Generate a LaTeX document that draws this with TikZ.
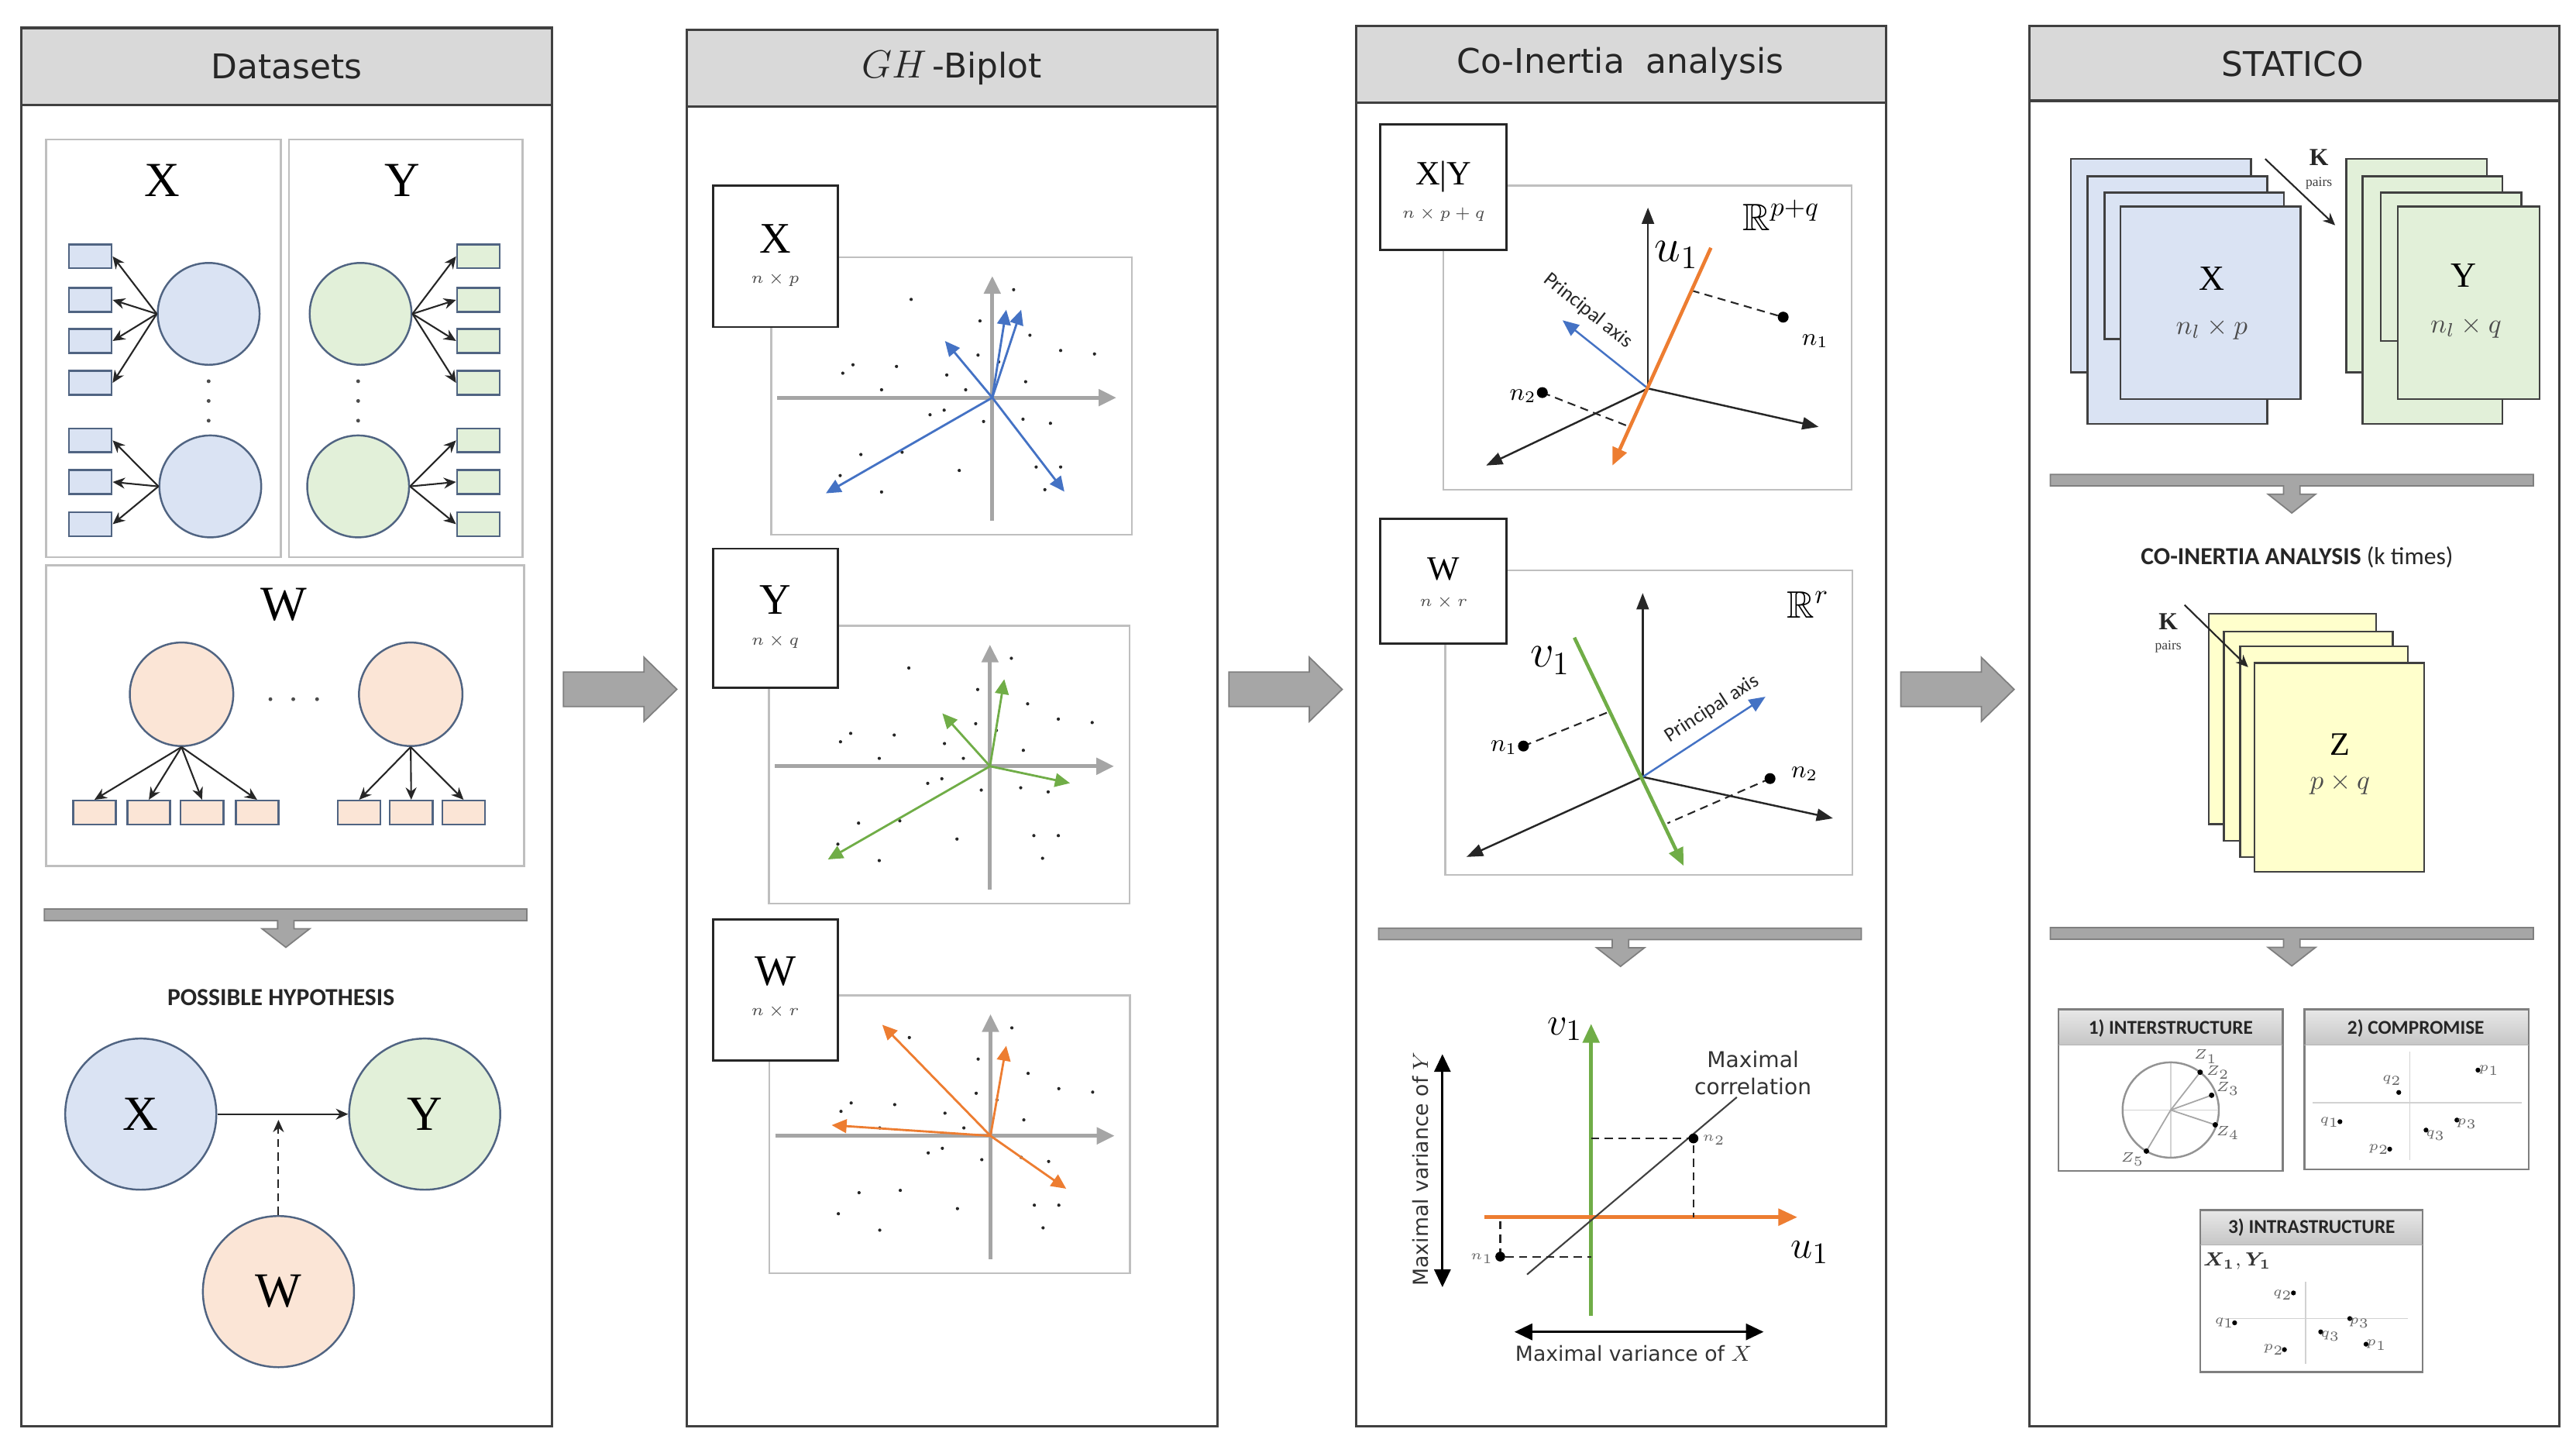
\documentclass[tikz,border=0pt]{standalone}
\usepackage{amsmath,amssymb}
\usepackage{fontspec}
\newfontfamily\dvf{DejaVu Sans}
\newfontfamily\cbf{Carlito}
\newfontfamily\lsf{Liberation Serif}
\usetikzlibrary{arrows.meta}
\definecolor{bfill}{HTML}{DAE3F3}
\definecolor{gfill}{HTML}{E2F0D9}
\definecolor{ofill}{HTML}{FBE5D6}
\definecolor{yfill}{HTML}{FFFFCC}
\definecolor{edgec}{HTML}{506482}
\definecolor{hgray}{HTML}{D9D9D9}
\definecolor{bgray}{HTML}{A6A6A6}
\definecolor{dgray}{HTML}{7F7F7F}
\definecolor{lgray}{HTML}{BFBFBF}
\definecolor{axgray}{HTML}{A5A5A5}
\definecolor{cblue}{HTML}{4472C4}
\definecolor{cgreen}{HTML}{70AD47}
\definecolor{corange}{HTML}{ED7D31}
\def\ux{0.021205cm}
\def\scatpts{-49.4/-59.8, -7.5/-46.7, 13/-65.7, 22.9/-38, 41.6/-28.7, 62.2/-26.6, -91/-14.9, -84.8/-20, -58.3/-19, -27.7/-13.8, -8.7/-25.9, 3.9/-21.8, 20.3/-9.7, -67.4/-4.8, -16.2/-4.8, -37.9/10.4, -29.3/7.6, -5.3/14.5, 18.7/13.1, 35.4/15.6, -80/34.6, -54.9/33.2, -20.1/44.3, 26.7/42.2, 41.6/42.2, -92.6/47.4, -67.4/57.4, 32/56}
\newcommand\biplotbase{%
  \draw[lightbox] (-134.5,-85.5) rectangle (85,83.5);
  \draw[gaxis] (-131,0) -- (75.5,0);
  \draw[gaxis] (0,75) -- (0,-74);
  \foreach \a/\b in \scatpts {\fill[black!85] (\a,\b) circle (0.6pt);}
}
\newcommand\notcharrow[5]{%
  \filldraw[fill=bgray, draw=dgray, line width=0.5pt] (#1,#3) -- (#2,#3) -- (#2,#3+7) -- (#4+5,#3+7) -- (#4+5,#3+12) -- (#4+14.5,#3+12) -- (#4,#5) -- (#4-14.5,#3+12) -- (#4-5,#3+12) -- (#4-5,#3+7) -- (#1,#3+7) -- cycle;}
\newcommand\blockarrow[1]{%
  \filldraw[fill=bgray, draw=dgray, line width=0.5pt] (#1,409) -- (#1+49,409) -- (#1+49,400) -- (#1+69,419.5) -- (#1+49,439) -- (#1+49,430) -- (#1,430) -- cycle;}
\begin{document}
\begin{tikzpicture}[x=0.021205cm,y=-0.021205cm,
  panelbox/.style={draw=black!75, line width=0.9pt},
  headband/.style={fill=hgray, draw=black!75, line width=0.9pt},
  ttl/.style={font=\dvf\fontsize{12.5}{15}\selectfont, text=black!85},
  lightbox/.style={draw=lgray, line width=0.7pt},
  smrect/.style={rectangle, draw=edgec, line width=0.7pt, inner sep=0pt, minimum width=26*\ux, minimum height=14.5*\ux},
  blr/.style={smrect, fill=bfill},
  grr/.style={smrect, fill=gfill},
  orr/.style={smrect, fill=ofill},
  circ/.style={circle, draw=edgec, line width=0.7pt, inner sep=0pt, minimum size=62*\ux},
  hcirc/.style={circle, draw=edgec, line width=0.7pt, inner sep=0pt, minimum size=92*\ux},
  arr/.style={draw=black!85, line width=0.6pt, -{Stealth[length=4.5pt,width=4pt]}},
  bigL/.style={font=\lsf\fontsize{18}{20}\selectfont},
  midL/.style={font=\lsf\fontsize{16}{18}\selectfont},
  smL/.style={font=\lsf\fontsize{12.5}{14}\selectfont},
  dimL/.style={font=\fontsize{6}{7}\selectfont, text=black!70},
  lblbox/.style={rectangle, draw=black!85, fill=white, line width=0.8pt, inner sep=0pt, minimum width=75.8*\ux, minimum height=86*\ux},
  gaxis/.style={draw=axgray, line width=1.4pt, -{Triangle[length=6.5pt,width=6pt]}},
  varr/.style={line width=0.8pt, -{Triangle[length=5.5pt,width=5pt]}},
  kaxis/.style={draw=black!85, line width=0.7pt, -{Triangle[length=6pt,width=4.5pt]}},
  dsh/.style={draw=black!85, line width=0.6pt, dash pattern=on 3pt off 2pt},
  pax/.style={font=\cbf\fontsize{7.5}{9}\selectfont, text=black!85, inner sep=0pt},
  stackb/.style={fill=bfill, draw=black!75, line width=0.7pt},
  stackg/.style={fill=gfill, draw=black!75, line width=0.7pt},
  stacky/.style={fill=yfill, draw=black!75, line width=0.7pt},
  capt/.style={font=\cbf\bfseries\fontsize{9}{11}\selectfont, text=black!85},
  mini/.style={draw=dgray, line width=0.7pt},
  minit/.style={font=\cbf\bfseries\fontsize{7.2}{8}\selectfont, text=black!85},
  tinyL/.style={font=\fontsize{4.5}{5}\selectfont, text=black!60, inner sep=0.5pt},
  mdot/.style={fill=black}
]
\useasboundingbox (0,0) rectangle (1568,884);

% ================= Panel 1: Datasets =================
\draw[panelbox] (13,17) rectangle (336,868);
\draw[headband] (13,17) rectangle (336,64);
\node[ttl] (t1) at (174.5,40.5) {Datasets};

\draw[lightbox] (28,85) rectangle (171,339);
\draw[lightbox] (176,85) rectangle (318,339);
\draw[lightbox] (28,344) rectangle (319,527);
\node[bigL] (lx) at (98.7,110) {X};
\node[bigL] (ly) at (245,110) {Y};
\node[bigL] (lw) at (172.6,368) {W};

% X block
\node[circ, fill=bfill] (bc1) at (127,191) {};
\node[circ, fill=bfill] (bc2) at (128,296) {};
\foreach \i/\y in {1/156,2/182.5,3/207.5,4/233,5/268,6/293.3,7/319}
  \node[blr] (bx\i) at (55,\y) {};
\foreach \i in {1,2,3,4} \draw[arr] (bc1.west) -- (bx\i.east);
\foreach \i in {5,6,7} \draw[arr] (bc2.west) -- (bx\i.east);
\foreach \y in {232,244,256} \fill[black!70] (127,\y) circle (0.7pt);

% Y block
\node[circ, fill=gfill] (gc1) at (219.5,191) {};
\node[circ, fill=gfill] (gc2) at (218,296) {};
\foreach \i/\y in {1/156,2/182.5,3/207.5,4/233,5/268,6/293.3,7/319}
  \node[grr] (gx\i) at (291.2,\y) {};
\foreach \i in {1,2,3,4} \draw[arr] (gc1.east) -- (gx\i.west);
\foreach \i in {5,6,7} \draw[arr] (gc2.east) -- (gx\i.west);
\foreach \y in {232,244,256} \fill[black!70] (218,\y) circle (0.7pt);

% W block
\node[circ, fill=ofill, minimum size=63*\ux] (oc1) at (110.5,422.5) {};
\node[circ, fill=ofill, minimum size=63*\ux] (oc2) at (250,422.5) {};
\foreach \i/\x in {1/57.5,2/90.6,3/123,4/156.5,5/218.6,6/250.3,7/282.2}
  \node[orr] (ox\i) at (\x,494.5) {};
\foreach \i in {1,2,3,4} \draw[arr] (oc1.south) -- (ox\i.north);
\foreach \i in {5,6,7} \draw[arr] (oc2.south) -- (ox\i.north);
\foreach \x in {164.6,178.5,193} \fill[black!70] (\x,425.5) circle (0.7pt);

\notcharrow{27}{320.7}{553.2}{174}{576.5}
\node[capt] (ph) at (171,607) {POSSIBLE HYPOTHESIS};
\node[hcirc, fill=bfill, bigL] (hx) at (85.7,678) {X};
\node[hcirc, fill=gfill, bigL] (hy) at (258.5,678) {Y};
\node[hcirc, fill=ofill, bigL] (hw) at (169.5,786) {W};
\draw[arr] (hx.east) -- (hy.west);
\coordinate (hm) at (169.5,681.5);
\draw[arr, dash pattern=on 3pt off 2pt] (hw.north) -- (hm);

% arrows between panels
\blockarrow{343}
\blockarrow{748}
\blockarrow{1157}

% ================= Panel 2: GH-Biplot =================
\draw[panelbox] (418,18) rectangle (741,868);
\draw[headband] (418,18) rectangle (741,65);
\node[ttl] (t2) at (579.3,41.5) {{\fontsize{13.5}{15}\selectfont$GH$}\,-Biplot};

\begin{scope}[shift={(604,242)}]
  \biplotbase
  \coordinate (bo1) at (0,0);
  \foreach \dx/\dy in {-28.8/-34.5, -101.3/58.2, 43.9/57.2, 8.5/-53.5, 17.6/-53.5}
    \draw[varr, cblue] (bo1) -- ++(\dx,\dy);
\end{scope}
\node[lblbox] (bl1) at (472.1,156) {};
\node[midL] (bl1a) at (471.9,145.3) {X};
\node[dimL] (bl1b) at (471.9,170) {$n\times p$};

\begin{scope}[shift={(602.6,466.3)}]
  \biplotbase
  \coordinate (bo2) at (0,0);
  \foreach \dx/\dy in {-29/-32.2, -98.7/56.7, 48.7/10.3, 8.7/-53}
    \draw[varr, cgreen] (bo2) -- ++(\dx,\dy);
\end{scope}
\node[lblbox, minimum height=84.7*\ux] (bl2) at (472.1,376.2) {};
\node[midL] (bl2a) at (471.9,365) {Y};
\node[dimL] (bl2b) at (471.9,390.2) {$n\times q$};

\begin{scope}[shift={(602.9,691.2)}]
  \biplotbase
  \coordinate (bo3) at (0,0);
  \foreach \dx/\dy in {-65.9/-67.6, -96.7/-6.5, 9.6/-54.8, 46.1/32.2}
    \draw[varr, corange] (bo3) -- ++(\dx,\dy);
\end{scope}
\node[lblbox, minimum height=85.8*\ux] (bl3) at (472.1,602.4) {};
\node[midL] (bl3a) at (471.9,591) {W};
\node[dimL] (bl3b) at (471.9,615.4) {$n\times r$};

% ================= Panel 3: Co-Inertia =================
\draw[panelbox] (825.5,16) rectangle (1148,868);
\draw[headband] (825.5,16) rectangle (1148,62.4);
\node[ttl] (t3) at (986.4,39) {Co-Inertia\ \ analysis};

% top plot
\draw[lightbox] (878.6,113) rectangle (1127,298.1);
\node[lblbox, minimum width=76.8*\ux, minimum height=76.5*\ux] (cl1) at (878.7,114) {};
\node[smL] (cl1a) at (878.7,107.5) {X|Y};
\node[dimL] (cl1b) at (878.7,130.6) {$n\times p+q$};
\node[font=\fontsize{14}{16}\selectfont] (r1) at (1084.3,131) {$\mathbb{R}^{p+q}$};
\coordinate (co1) at (1003.1,236.4);
\draw[kaxis] (co1) -- (1003.1,126.3);
\draw[kaxis] (co1) -- (1107,259.8);
\draw[kaxis] (co1) -- (904.6,283.3);
\draw[line width=0.7pt, cblue, -{Triangle[length=6pt,width=5pt]}] (co1) -- (951.1,194.9);
\node[pax, rotate=-38.6] (pa1) at (966.5,189) {Principal axis};
\draw[dsh] (1029.6,176.8) -- (1085.4,193);
\draw[dsh] (938.8,238.9) -- (992.1,259.8);
\draw[line width=1.3pt, corange, -{Triangle[length=6.5pt,width=5.5pt]}] (1041.4,150.8) -- (981.5,283.3);
\node[font=\fontsize{17}{18}\selectfont] (u1a) at (1020.4,155) {$u_1$};
\node[font=\fontsize{9}{10}\selectfont] (n1a) at (1104.9,207.5) {$n_1$};
\node[font=\fontsize{9}{10}\selectfont] (n2a) at (927,241) {$n_2$};
\fill (1085.4,193) circle (2pt);
\fill (938.8,238.9) circle (2pt);

% second plot
\draw[lightbox] (879.7,347.2) rectangle (1127.6,532.3);
\node[lblbox, minimum width=76.8*\ux, minimum height=75.8*\ux] (cl2) at (878.7,353.7) {};
\node[smL] (cl2a) at (878.7,346.4) {W};
\node[dimL] (cl2b) at (878.7,366.3) {$n\times r$};
\node[font=\fontsize{14}{16}\selectfont] (r2) at (1100.6,368) {$\mathbb{R}^{r}$};
\coordinate (co2) at (999.9,472.8);
\draw[kaxis] (co2) -- (999.9,360.9);
\draw[kaxis] (co2) -- (1115.7,498);
\draw[kaxis] (co2) -- (892.7,521.5);
\draw[line width=0.7pt, cblue, -{Triangle[length=6pt,width=5pt]}] (co2) -- (1074.6,424);
\node[pax, rotate=33] (pa2) at (1042.1,431.3) {Principal axis};
\draw[dsh] (927.3,454) -- (979.8,433);
\draw[dsh] (1077.4,473.8) -- (1015,501);
\draw[line width=1.3pt, cgreen, -{Triangle[length=6.5pt,width=5.5pt]}] (958.3,388) -- (1024.8,526.9);
\node[font=\fontsize{17}{18}\selectfont] (v1a) at (943.6,402) {$v_1$};
\node[font=\fontsize{9}{10}\selectfont] (n1b) at (915.4,455) {$n_1$};
\node[font=\fontsize{9}{10}\selectfont] (n2b) at (1098.4,471) {$n_2$};
\fill (927.3,454) circle (2pt);
\fill (1077.4,473.8) circle (2pt);

\notcharrow{839.2}{1133}{564.8}{986.4}{588.1}

% bottom plot
\draw[line width=1.5pt, cgreen, -{Triangle[length=7pt,width=6pt]}] (968.5,800.7) -- (968.5,623);
\draw[line width=1.5pt, corange, -{Triangle[length=7pt,width=6pt]}] (903.5,740.7) -- (1094.1,740.7);
\draw[draw=black!75, line width=0.6pt] (929.5,775.6) -- (1057.2,667.7);
\draw[dsh] (968.5,692.8) -- (1030.8,692.8) -- (1030.8,740.7);
\draw[dsh] (913.2,743) -- (913.2,764.7) -- (968.5,764.7);
\fill (1030.8,692.8) circle (1.8pt);
\fill (913.2,764.7) circle (1.8pt);
\node[tinyL] (n2c) at (1043.2,693.8) {$n_2$};
\node[tinyL] (n1c) at (902,766) {$n_1$};
\node[font=\fontsize{15}{16}\selectfont] (v1b) at (952.7,626.3) {$v_1$};
\node[font=\fontsize{15}{16}\selectfont] (u1b) at (1101.6,762.1) {$u_1$};
\node[font=\dvf\fontsize{8}{10}\selectfont, text=black!80, align=center] (mc) at (1067,653) {Maximal\\correlation};
\coordinate (vy1) at (878,641.5);
\coordinate (vy2) at (878,783.3);
\draw[line width=0.8pt, {Triangle[length=6.5pt,width=6pt]}-{Triangle[length=6.5pt,width=6pt]}] (vy1) -- (vy2);
\node[font=\dvf\fontsize{7.6}{9}\selectfont, text=black!80, rotate=90] (mvy) at (864.5,711.3) {Maximal variance of $Y$};
\coordinate (vx1) at (921.9,810.5);
\coordinate (vx2) at (1073.5,810.5);
\draw[line width=0.8pt, {Triangle[length=6.5pt,width=6pt]}-{Triangle[length=6.5pt,width=6pt]}] (vx1) -- (vx2);
\node[font=\dvf\fontsize{7.6}{9}\selectfont, text=black!80] (mvx) at (994.4,823.6) {Maximal variance of $X$};

% ================= Panel 4: STATICO =================
\draw[panelbox] (1235.3,16) rectangle (1558,868);
\draw[headband] (1235.3,16) rectangle (1558,61.3);
\node[ttl] (t4) at (1395.6,38.7) {STATICO};

\draw[stackb] (1260.5,96.7) rectangle (1370.2,226.6);
\draw[stackb] (1270.7,107.2) rectangle (1380.1,258);
\draw[stackb] (1281.1,117.3) rectangle (1390.1,206.4);
\draw[stackb] (1290.6,125.6) rectangle (1400.4,242.9);
\node[font=\lsf\fontsize{13}{15}\selectfont] (sx) at (1346.3,169.6) {X};
\node[font=\fontsize{10}{12}\selectfont, text=black!70] (sxd) at (1346.3,200.3) {$n_l\times p$};

\draw[stackg] (1428.1,96.7) rectangle (1513.8,226.6);
\draw[stackg] (1438,107.2) rectangle (1523.1,258);
\draw[stackg] (1449.1,117.3) rectangle (1534.8,207.5);
\draw[stackg] (1459.5,125.6) rectangle (1545.7,242.9);
\node[font=\lsf\fontsize{13}{15}\selectfont] (sy) at (1499.5,167.8) {Y};
\node[font=\fontsize{10}{12}\selectfont, text=black!70] (syd) at (1501,199.2) {$n_l\times q$};

\coordinate (ka1) at (1378.8,96.7);
\coordinate (ka2) at (1421.4,137.1);
\draw[arr] (ka1) -- (ka2);
\node[font=\lsf\bfseries\fontsize{9}{10}\selectfont, text=black!85] (kk1) at (1411.5,96) {K};
\node[font=\lsf\fontsize{5}{6}\selectfont, text=black!75] (kp1) at (1411.5,111.5) {pairs};

\notcharrow{1248}{1542}{288.7}{1395}{312.2}
\node[capt] (cia) at (1398.2,339.2) {CO-INERTIA ANALYSIS {\mdseries (k times)}};

\draw[stacky] (1344.5,373.5) rectangle (1446.4,501.6);
\draw[stacky] (1353.6,384.3) rectangle (1456.4,511.7);
\draw[stacky] (1363.5,393.4) rectangle (1465.7,521.5);
\draw[stacky] (1372.4,403.5) rectangle (1475.6,530.5);
\node[font=\lsf\fontsize{12}{14}\selectfont] (sz) at (1424.3,452.9) {Z};
\node[font=\fontsize{10}{12}\selectfont, text=black!70] (szd) at (1424.3,477.1) {$p\times q$};
\coordinate (kb1) at (1329.7,368.1);
\coordinate (kb2) at (1368.4,406);
\draw[arr] (kb1) -- (kb2);
\node[font=\lsf\bfseries\fontsize{9}{10}\selectfont, text=black!85] (kk2) at (1319.8,378.5) {K};
\node[font=\lsf\fontsize{5}{6}\selectfont, text=black!75] (kp2) at (1319.8,393.4) {pairs};

\notcharrow{1248}{1542}{564.5}{1395}{587.8}

% 1) Interstructure
\shade[top color=gray!18, bottom color=gray!45] (1253,614.2) rectangle (1389.4,635.9);
\draw[mini] (1253,614.2) rectangle (1389.4,712.5);
\draw[draw=gray!60, line width=0.4pt] (1253,635.9) -- (1389.4,635.9);
\node[minit] (m1) at (1321.3,625.8) {1) INTERSTRUCTURE};
\draw[draw=gray!35, line width=0.5pt] (1321.3,646.5) -- (1321.3,704.5);
\draw[draw=gray!35, line width=0.5pt] (1292,675.5) -- (1350.5,675.5);
\draw[draw=gray!85, line width=0.7pt] (1321.3,675.5) circle [x radius=29.3, y radius=29];
\coordinate (ic) at (1321.3,675.5);
\foreach \px/\py in {1339.2/652.5, 1346.2/666.5, 1348.4/684.5, 1306.5/700.5} {
  \draw[draw=gray!70, line width=0.5pt] (ic) -- (\px,\py);
  \fill (\px,\py) circle (1pt);
}
\node[tinyL] (z1) at (1342.5,643) {$Z_1$};
\node[tinyL] (z2) at (1350,652.5) {$Z_2$};
\node[tinyL] (z3) at (1356,662.5) {$Z_3$};
\node[tinyL] (z4) at (1356,689.5) {$Z_4$};
\node[tinyL] (z5) at (1298,705.5) {$Z_5$};

% 2) Compromise
\shade[top color=gray!18, bottom color=gray!45] (1402.7,614.2) rectangle (1539.3,635.9);
\draw[mini] (1402.7,614.2) rectangle (1539.3,711.5);
\draw[draw=gray!60, line width=0.4pt] (1402.7,635.9) -- (1539.3,635.9);
\node[minit] (m2) at (1470.5,625.8) {2) COMPROMISE};
\draw[draw=gray!35, line width=0.5pt] (1466.8,640) -- (1466.8,706);
\draw[draw=gray!35, line width=0.5pt] (1407.7,671.1) -- (1534.8,671.1);
\foreach \px/\py in {1460.1/664.8, 1508.3/651.2, 1424.3/682.6, 1495.5/681.6, 1476.7/687.7, 1454.6/699.3}
  \fill (\px,\py) circle (0.9pt);
\node[tinyL] (cq2) at (1456,657.5) {$q_2$};
\node[tinyL] (cp1) at (1515,651.5) {$p_1$};
\node[tinyL] (cq1) at (1418,683) {$q_1$};
\node[tinyL] (cp3) at (1501.5,684) {$p_3$};
\node[tinyL] (cq3) at (1482.5,691) {$q_3$};
\node[tinyL] (cp2) at (1448,699.5) {$p_2$};

% 3) Intrastructure
\shade[top color=gray!18, bottom color=gray!45] (1339.2,736.4) rectangle (1474.5,757.7);
\draw[mini] (1339.2,736.4) rectangle (1474.5,834.9);
\draw[draw=gray!60, line width=0.4pt] (1339.2,757.7) -- (1474.5,757.7);
\node[minit] (m3) at (1407.1,747.2) {3) INTRASTRUCTURE};
\node[font=\fontsize{7}{8}\selectfont, text=black!80] (xy13) at (1361.8,767.5) {$\boldsymbol{X_1}, \boldsymbol{Y_1}$};
\draw[draw=gray!35, line width=0.5pt] (1403.3,780) -- (1403.3,829.8);
\draw[draw=gray!35, line width=0.5pt] (1351.8,802.4) -- (1465.6,802.4);
\foreach \px/\py in {1396/786.8, 1360.2/805, 1430.3/802.4, 1412.6/810.5, 1440.2/818, 1390.5/821.3}
  \fill (\px,\py) circle (0.9pt);
\node[tinyL] (iq2) at (1389.5,788) {$q_2$};
\node[tinyL] (iq1) at (1354,805) {$q_1$};
\node[tinyL] (ip3) at (1436,805) {$p_3$};
\node[tinyL] (iq3) at (1418.5,813) {$q_3$};
\node[tinyL] (ip1) at (1446.5,818.5) {$p_1$};
\node[tinyL] (ip2) at (1384,821.3) {$p_2$};
\end{tikzpicture}
\end{document}
